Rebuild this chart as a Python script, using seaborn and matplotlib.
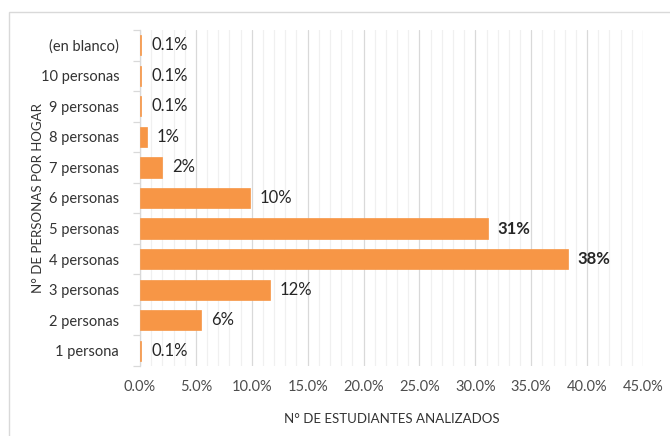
import matplotlib
matplotlib.use("Agg")
import matplotlib.pyplot as plt
import seaborn as sns
import pandas as pd
import numpy as np
from matplotlib.ticker import MultipleLocator, FuncFormatter
from matplotlib.patches import Rectangle

categories = ["(en blanco)", "10 personas", "9 personas", "8 personas", "7 personas",
              "6 personas", "5 personas", "4 personas", "3 personas", "2 personas", "1 persona"]
values = [0.12, 0.12, 0.12, 0.6, 2.0, 9.8, 31.1, 38.3, 11.6, 5.5, 0.12]
labels = ["0.1%", "0.1%", "0.1%", "1%", "2%", "10%", "31%", "38%", "12%", "6%", "0.1%"]
bold_labels = ["31%", "38%"]

sns.set_theme(style="white")
plt.rcParams["font.family"] = ["Lato", "DejaVu Sans"]

df = pd.DataFrame({"cat": categories, "val": values})

fig = plt.figure(figsize=(6.7, 4.36), dpi=100)
ax = fig.add_axes([140/670, 1-366/436, (643-140)/670, (366-30)/436])

fig.patches.append(Rectangle((9/670, -0.1), 1.2, 1-12/436+0.1, transform=fig.transFigure,
                             fill=False, edgecolor="#D9D9D9", linewidth=1.0, zorder=0))

sns.barplot(data=df, x="val", y="cat", order=categories, color="#F79646",
            saturation=1, width=0.66, ax=ax, zorder=3,
            edgecolor="#F79646", linewidth=0.5)

ax.set_xlim(0, 45)
ax.xaxis.set_major_locator(MultipleLocator(5))
ax.xaxis.set_minor_locator(MultipleLocator(1))
ax.xaxis.set_major_formatter(FuncFormatter(lambda v, p: f"{v:.1f}%"))
ax.grid(axis="x", which="major", color="#D9D9D9", linewidth=0.9, zorder=0)
ax.grid(axis="x", which="minor", color="#F0F0F0", linewidth=0.9, zorder=0)
ax.set_axisbelow(True)

for s in ["top", "right", "bottom"]:
    ax.spines[s].set_visible(False)
ax.spines["left"].set_color("#D9D9D9")
ax.spines["left"].set_linewidth(0.9)

ax.set_yticks(np.arange(len(categories)))
ax.set_yticklabels(categories)
ax.set_yticks(np.arange(-0.5, len(categories), 1), minor=True)
ax.tick_params(axis="y", which="major", length=0, pad=15, labelsize=10.5, labelcolor="#333333")
ax.tick_params(axis="y", which="minor", length=5, width=0.9, color="#D9D9D9", left=True)
ax.tick_params(axis="x", which="both", length=0, pad=10, labelsize=10.5, labelcolor="#4D4D4D")

ax.set_xlabel("N° DE ESTUDIANTES ANALIZADOS", fontsize=9.5, color="#333333", labelpad=14)
ax.set_ylabel("N° DE PERSONAS POR HOGAR", fontsize=9.5, color="#333333", labelpad=10)
ax.yaxis.set_label_coords(-(140-44)/503, 0.5)

cont = ax.containers[0]
texts = ax.bar_label(cont, labels=labels, padding=7, fontsize=12, color="#262626")
for t in texts:
    if t.get_text() in bold_labels:
        t.set_fontweight("bold")

fig.savefig("out.png", dpi=100)
